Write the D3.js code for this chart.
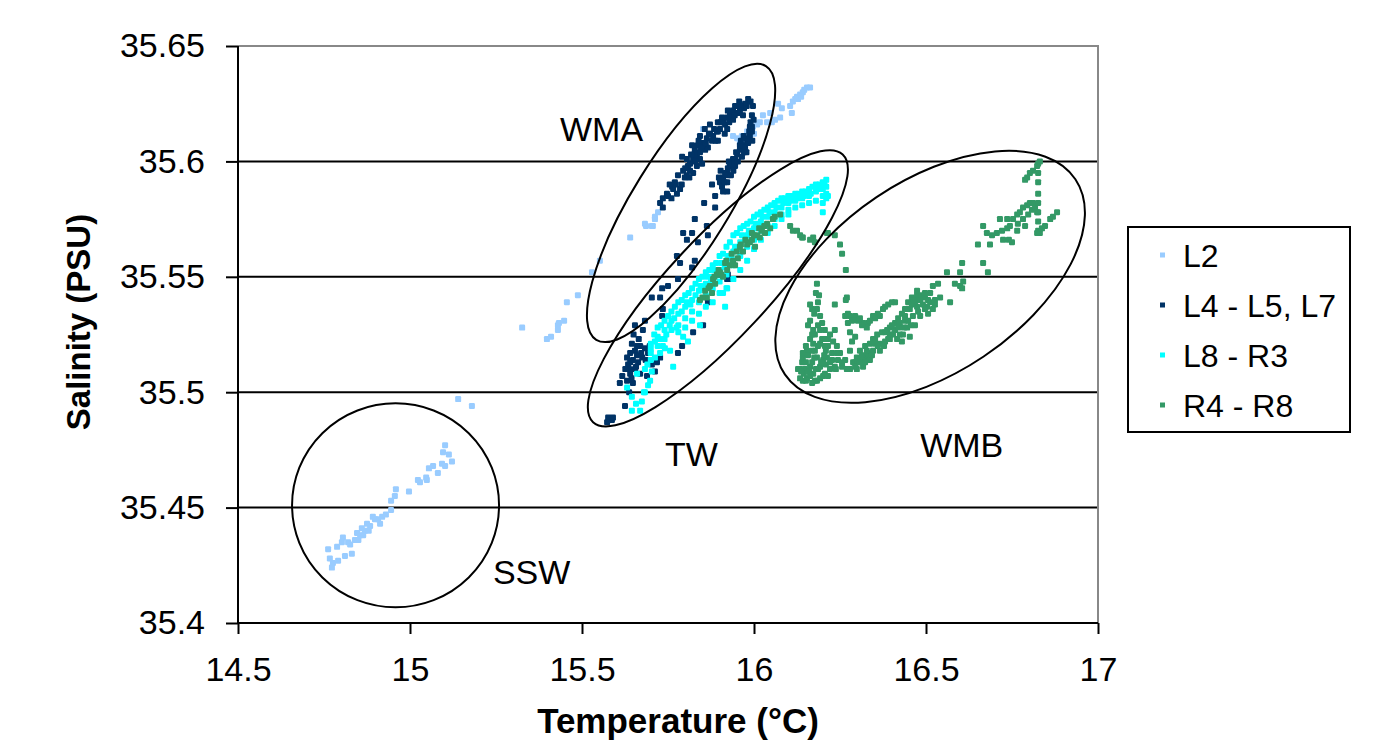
<!DOCTYPE html>
<html><head><meta charset="utf-8">
<script src="https://cdn.jsdelivr.net/npm/d3@7"></script>
<style>body{margin:0;background:#fff}svg{display:block}text{font-family:"Liberation Sans",Arial,sans-serif}</style>
</head><body><svg id="c" width="1399" height="749"></svg>
<script>
// ---------- data (Temperature °C, Salinity PSU) ----------
const seriesNames = ["L2", "L4 - L5, L7", "L8 - R3", "R4 - R8"];
const xTicks = [14.5, 15, 15.5, 16, 16.5, 17];
const xTickLabels = ["14.5", "15", "15.5", "16", "16.5", "17"];
const yTicks = [35.4, 35.45, 35.5, 35.55, 35.6, 35.65];
const yTickLabels = ["35.4", "35.45", "35.5", "35.55", "35.6", "35.65"];

const l2Points = [
 [15.140,35.497],[15.180,35.494],[15.102,35.477],[15.096,35.474],[15.113,35.473],[15.122,35.470],[15.093,35.469],[15.102,35.468],
 [15.081,35.465],[15.067,35.468],[15.055,35.467],[15.047,35.463],[15.049,35.462],[15.029,35.461],[15.023,35.462],[14.997,35.457],
 [14.959,35.458],[14.956,35.455],[14.945,35.453],[14.945,35.449],[14.919,35.446],[14.892,35.446],[14.907,35.445],[14.884,35.442],
 [14.869,35.440],[14.855,35.438],[14.840,35.436],[14.826,35.434],[14.805,35.437],[14.802,35.435],[14.788,35.433],[14.762,35.432],
 [14.767,35.428],[14.776,35.426],[14.791,35.427],[14.773,35.424],[14.811,35.429],[14.831,35.430],[14.820,35.435],[14.860,35.441],
 [14.875,35.443],[14.898,35.445],[14.846,35.439],[14.913,35.443],[14.930,35.447],[14.880,35.440],[14.864,35.438],[14.850,35.436],
 [15.552,35.557],[15.529,35.552],[15.488,35.542],[15.456,35.539],[15.448,35.531],[15.433,35.530],[15.430,35.529],[15.430,35.527],
 [15.410,35.524],[15.398,35.523],[15.326,35.528],
 [15.640,35.567],[15.686,35.572],[15.706,35.572],[15.712,35.575],[15.721,35.578],[15.683,35.573],[15.703,35.572],[15.712,35.576],
 [15.852,35.614],[15.951,35.610],[15.965,35.611],[15.980,35.613],[15.997,35.615],[16.017,35.617],[16.038,35.617],[16.061,35.618],
 [16.026,35.620],[16.047,35.621],[16.070,35.625],[16.081,35.623],[16.105,35.624],[16.110,35.621],[16.113,35.626],[16.125,35.628],
 [16.134,35.629],[16.142,35.630],[16.154,35.632],[16.163,35.632],[16.128,35.627],[15.959,35.608],[15.974,35.609],[15.939,35.611],
 [15.994,35.614],[16.009,35.616],[16.052,35.617],[16.076,35.619],[16.137,35.628],[16.146,35.631],[16.120,35.627],[16.000,35.612]
];

const l4Points = [
 [15.727,35.582],[15.735,35.584],[15.747,35.586],[15.762,35.589],[15.770,35.591],[15.765,35.588],[15.785,35.588],[15.779,35.594],
 [15.794,35.596],[15.805,35.594],[15.814,35.599],[15.823,35.601],[15.834,35.602],[15.843,35.604],[15.828,35.605],[15.837,35.607],
 [15.820,35.607],[15.852,35.608],[15.863,35.610],[15.866,35.606],[15.881,35.611],[15.892,35.613],[15.901,35.614],[15.910,35.617],
 [15.922,35.619],[15.930,35.620],[15.939,35.622],[15.951,35.624],[15.965,35.624],[15.974,35.625],[15.922,35.614],[15.895,35.609],
 [15.849,35.599],[15.834,35.598],[15.823,35.595],[15.805,35.601],[15.791,35.602],[15.843,35.611],[15.857,35.614],[15.872,35.616],
 [15.895,35.617],[15.924,35.622],[15.959,35.622],[15.939,35.618],[15.997,35.624],[15.994,35.620],[15.988,35.615],[15.735,35.580],
 [15.750,35.585],[15.773,35.590],[15.799,35.593],[15.814,35.596],[15.843,35.601],[15.858,35.605],[15.878,35.609],[15.895,35.613],
 [15.916,35.616],[15.936,35.619],[15.953,35.621],[15.971,35.623],[15.872,35.612],[15.849,35.607],[15.826,35.603],[15.808,35.598],
 [15.907,35.619],[15.945,35.624],[15.983,35.627],
 [15.760,35.584],[15.776,35.586],[15.790,35.590],[15.800,35.597],[15.817,35.603],[15.830,35.600],[15.846,35.606],[15.860,35.608],
 [15.869,35.612],[15.884,35.614],[15.888,35.609],[15.903,35.617],[15.915,35.612],[15.928,35.617],[15.944,35.620],[15.957,35.626],
 [15.968,35.620],[15.979,35.624],[15.990,35.626],[15.755,35.590],[15.812,35.593],[15.839,35.609],
 [15.901,35.591],[15.910,35.593],[15.922,35.595],[15.930,35.598],[15.939,35.601],[15.951,35.603],[15.959,35.605],[15.968,35.607],
 [15.980,35.609],[15.988,35.611],[15.994,35.613],[15.907,35.589],[15.916,35.595],[15.924,35.594],[15.936,35.599],[15.945,35.598],
 [15.965,35.602],[15.974,35.606],[15.983,35.608],[15.898,35.593],[15.922,35.587],[15.904,35.592],[15.924,35.597],[15.945,35.601],
 [15.959,35.607],[15.977,35.610],[15.994,35.615],[15.986,35.613],[15.971,35.604],[15.953,35.600],[15.933,35.594],
 [15.903,35.596],[15.915,35.591],[15.927,35.600],[15.940,35.596],[15.948,35.604],[15.962,35.609],[15.970,35.611],[15.978,35.604],
 [15.990,35.617],[15.999,35.618],[15.995,35.609],
 [15.878,35.590],[15.922,35.591],[15.910,35.587],[15.887,35.585],[15.855,35.582],[15.887,35.580],[15.828,35.575],[15.794,35.569],
 [15.820,35.569],[15.805,35.566],[15.837,35.565],[15.863,35.572],[15.866,35.568],[15.776,35.559],[15.785,35.556],[15.828,35.557],
 [15.820,35.554],[15.779,35.549],[15.750,35.546],[15.733,35.545],[15.727,35.541],[15.703,35.541],[15.735,35.536],[15.733,35.533],
 [15.654,35.529],[15.683,35.531],[15.677,35.527],[15.852,35.529],[15.823,35.526],[15.791,35.520],[15.779,35.517],[15.727,35.515],
 [15.718,35.513],[15.703,35.512],[15.692,35.517],[15.683,35.519],[15.669,35.520],[15.654,35.518],[15.640,35.517],[15.631,35.515],
 [15.648,35.514],[15.663,35.513],[15.634,35.512],[15.654,35.510],[15.640,35.508],[15.669,35.508],[15.631,35.505],[15.648,35.504],
 [15.610,35.504],[15.712,35.509],[15.689,35.507],[15.625,35.494],[15.576,35.489],[15.587,35.488],[15.573,35.487],[15.590,35.489],
 [15.924,35.551],[15.936,35.549],[15.922,35.549],[15.866,35.539],[15.660,35.516],[15.645,35.521],[15.637,35.510],[15.675,35.515],
 [15.640,35.513],[15.660,35.520],[15.650,35.525],[15.665,35.523],[15.672,35.517],[15.626,35.510],[15.644,35.506],[15.657,35.511],
 [15.685,35.514],[15.697,35.520],[15.617,35.507],[15.637,35.500]
];

const l8Points = [
 [15.70,35.521],[15.70,35.519],[15.70,35.517],[15.72,35.528],[15.72,35.524],[15.72,35.520],[15.74,35.531],[15.74,35.527],[15.74,35.523],
 [15.76,35.535],[15.76,35.531],[15.76,35.527],[15.78,35.539],[15.78,35.534],[15.78,35.529],[15.78,35.526],
 [15.80,35.542],[15.80,35.537],[15.80,35.532],[15.80,35.528],[15.82,35.545],[15.82,35.540],[15.82,35.535],[15.82,35.531],
 [15.84,35.549],[15.84,35.544],[15.84,35.539],[15.84,35.534],[15.86,35.552],[15.86,35.547],[15.86,35.542],[15.86,35.537],
 [15.88,35.555],[15.88,35.550],[15.88,35.545],[15.88,35.539],[15.90,35.559],[15.90,35.553],[15.90,35.548],[15.90,35.543],
 [15.92,35.563],[15.92,35.557],[15.92,35.551],[15.92,35.545],[15.94,35.568],[15.94,35.561],[15.94,35.555],[15.94,35.549],
 [15.96,35.571],[15.96,35.565],[15.96,35.559],[15.96,35.553],[15.98,35.573],[15.98,35.568],[15.98,35.563],[15.98,35.557],
 [16.00,35.576],[16.00,35.571],[16.00,35.566],[16.00,35.562],[16.02,35.578],[16.02,35.574],[16.02,35.570],[16.02,35.566],
 [16.04,35.580],[16.04,35.576],[16.04,35.572],[16.04,35.569],[16.06,35.582],[16.06,35.578],[16.06,35.575],[16.06,35.572],
 [16.08,35.584],[16.08,35.580],[16.08,35.577],[16.08,35.575],[16.10,35.585],[16.10,35.582],[16.10,35.579],[16.10,35.577],
 [16.12,35.586],[16.12,35.583],[16.12,35.580],[16.14,35.587],[16.14,35.584],[16.14,35.581],[16.16,35.588],[16.16,35.585],[16.16,35.582],
 [16.18,35.590],[16.18,35.587],[16.18,35.583],[16.20,35.591],[16.20,35.588],[16.20,35.585],[16.20,35.582],
 [16.21,35.592],[16.21,35.589],[16.21,35.586],[16.21,35.584],[16.215,35.585],[16.200,35.578],
 [15.71,35.525],[15.73,35.529],[15.75,35.533],[15.77,35.537],[15.79,35.540],[15.81,35.543],[15.83,35.547],[15.85,35.550],
 [15.87,35.553],[15.89,35.556],[15.91,35.560],[15.93,35.565],[15.95,35.569],[15.97,35.572],[15.99,35.574],[16.01,35.577],
 [16.03,35.579],[16.05,35.581],[16.07,35.583],[16.09,35.584],[16.11,35.585],[16.13,35.586],[16.15,35.587],[16.17,35.589],[16.19,35.590],
 [15.690,35.512],[15.700,35.514],[15.712,35.522],[15.725,35.523],[15.735,35.520],[15.745,35.525],[15.755,35.529],[15.768,35.532],
 [15.775,35.528],[15.790,35.535],[15.805,35.539],[15.815,35.538],[15.830,35.542],[15.845,35.546],[15.855,35.545],[15.865,35.550],
 [15.875,35.548],[15.885,35.553],[15.895,35.551],[15.905,35.556],[15.915,35.554],[15.925,35.559],[15.935,35.558],[15.945,35.563],
 [15.955,35.562],[15.965,35.568],[15.975,35.566],[15.985,35.570],[15.995,35.569],[16.005,35.573],[16.015,35.572],[16.025,35.576],
 [16.045,35.578],[16.065,35.580],[16.085,35.582],[16.105,35.583],[16.125,35.584],[16.145,35.585],[16.165,35.586],[16.185,35.588],[16.205,35.590],
 [15.631,35.502],[15.645,35.498],[15.674,35.496],[15.669,35.492],[15.645,35.492],[15.683,35.500],[15.698,35.505],[15.703,35.509],
 [15.712,35.515],[15.727,35.517],[15.741,35.519],[15.756,35.518],[15.765,35.511],[15.808,35.522],[15.794,35.524],[15.843,35.529],
 [15.916,35.537],[15.922,35.545],[15.910,35.543],[15.660,35.508],[15.692,35.503],[15.680,35.500],[15.657,35.495],[15.683,35.510]
];

const r4Points = [
 [16.076,35.577],[16.055,35.575],[16.038,35.573],[16.023,35.570],[16.009,35.568],[15.994,35.566],[15.980,35.564],[15.968,35.561],
 [15.953,35.558],[15.939,35.557],[15.930,35.555],[15.922,35.553],[15.901,35.552],[15.892,35.551],[15.881,35.549],[15.872,35.546],
 [15.858,35.544],[15.863,35.541],[15.878,35.543],[15.910,35.550],[15.959,35.563],[15.988,35.565],[15.994,35.569],[16.105,35.572],
 [16.125,35.570],[16.134,35.568],[16.172,35.567],[16.212,35.569],[15.945,35.555],[15.916,35.556],[16.017,35.567],[16.047,35.571],
 [16.003,35.563],[16.032,35.569],[15.843,35.540],[15.887,35.547],
 [15.850,35.541],[15.868,35.545],[15.885,35.550],[15.897,35.553],[15.905,35.551],[15.920,35.557],[15.935,35.560],[15.950,35.561],
 [15.962,35.564],[15.975,35.566],[16.000,35.568],[16.015,35.571],[16.030,35.572],[16.060,35.576],
 [16.140,35.567],[16.163,35.566],[16.177,35.565],[16.215,35.569],[16.235,35.568],[16.250,35.564],[16.256,35.560],[16.267,35.553],
 [16.270,35.541],[16.267,35.540],[16.235,35.538],[16.183,35.547],[16.113,35.570],[16.142,35.567],
 [16.180,35.543],[16.186,35.539],[16.183,35.536],[16.192,35.533],[16.169,35.536],[16.163,35.531],[16.172,35.527],[16.198,35.530],
 [16.206,35.527],[16.221,35.525],[16.235,35.527],[16.230,35.522],[16.241,35.520],[16.250,35.517],[16.215,35.520],[16.198,35.523],
 [16.172,35.521],[16.154,35.518],[16.142,35.515],[16.140,35.513],[16.148,35.510],[16.154,35.506],[16.172,35.508],[16.192,35.511],
 [16.201,35.514],[16.183,35.515],[16.169,35.513],[16.212,35.515],[16.221,35.510],[16.201,35.507],[16.183,35.505],[16.142,35.505],
 [16.157,35.516],[16.177,35.518],[16.206,35.520],[16.163,35.511],[16.186,35.510],[16.134,35.510],[16.227,35.514],[16.209,35.512],
 [16.157,35.529],[16.177,35.525],[16.192,35.521],[16.169,35.518],[16.151,35.513],[16.128,35.510],[16.163,35.507],[16.206,35.508],
 [16.235,35.511],[16.244,35.514],[16.215,35.523],[16.186,35.529],[16.145,35.508],[16.177,35.505],[16.134,35.506],
 [16.137,35.509],[16.151,35.505],[16.169,35.504],[16.192,35.506],[16.215,35.507],[16.238,35.510],[16.256,35.511],[16.227,35.517],
 [16.209,35.518],[16.186,35.520],[16.163,35.523],[16.151,35.520],[16.142,35.517],[16.175,35.515],[16.195,35.513],[16.180,35.510],
 [16.160,35.509],[16.204,35.516],[16.221,35.513],[16.241,35.517],[16.169,35.525],[16.192,35.527],[16.209,35.523],[16.175,35.534],
 [16.163,35.538],[16.189,35.542],
 [16.256,35.513],[16.279,35.510],[16.288,35.513],[16.299,35.515],[16.308,35.518],[16.323,35.520],[16.337,35.521],[16.346,35.523],
 [16.358,35.525],[16.372,35.526],[16.387,35.527],[16.395,35.528],[16.410,35.530],[16.419,35.532],[16.430,35.534],[16.439,35.536],
 [16.448,35.539],[16.459,35.541],[16.474,35.542],[16.488,35.542],[16.497,35.541],[16.512,35.539],[16.520,35.536],[16.503,35.537],
 [16.474,35.537],[16.462,35.533],[16.483,35.533],[16.445,35.528],[16.433,35.525],[16.453,35.524],[16.430,35.522],[16.328,35.515],
 [16.317,35.511],[16.346,35.518],[16.366,35.521],[16.390,35.523],[16.404,35.525],[16.299,35.510],[16.337,35.514],[16.279,35.518],
 [16.285,35.522],[16.279,35.526],[16.294,35.524],[16.273,35.530],[16.381,35.522],[16.410,35.527],[16.424,35.530],[16.453,35.536],
 [16.468,35.539],[16.352,35.521],[16.314,35.516],[16.265,35.514],[16.439,35.531],[16.468,35.529],[16.497,35.536],[16.512,35.543],[16.477,35.540],
 [16.294,35.513],[16.314,35.514],[16.331,35.517],[16.352,35.523],[16.381,35.526],[16.401,35.529],[16.419,35.528],[16.439,35.533],
 [16.459,35.538],[16.483,35.540],[16.506,35.540],[16.526,35.538],[16.477,35.535],[16.448,35.531],[16.424,35.525],[16.395,35.523],
 [16.366,35.518],[16.323,35.513],[16.302,35.513],[16.270,35.510],
 [16.294,35.511],[16.308,35.513],[16.328,35.518],[16.343,35.516],[16.360,35.520],[16.378,35.520],[16.395,35.525],[16.416,35.523],
 [16.436,35.528],[16.456,35.529],[16.442,35.536],[16.465,35.540],[16.491,35.538],[16.506,35.534],[16.526,35.540],[16.497,35.543],
 [16.474,35.544],[16.541,35.541],
 [16.265,35.533],[16.279,35.533],[16.294,35.533],[16.302,35.531],[16.317,35.530],[16.331,35.530],[16.346,35.533],[16.360,35.534],
 [16.375,35.536],[16.390,35.538],[16.401,35.539],[16.328,35.528],[16.308,35.532],[16.337,35.531],[16.366,35.533],
 [16.273,35.534],[16.285,35.531],[16.314,35.529],[16.352,35.532],[16.381,35.537],[16.410,35.539],
 [16.520,35.546],[16.535,35.547],[16.570,35.539],[16.584,35.547],[16.599,35.546],[16.608,35.548],[16.605,35.545],[16.561,35.552],
 [16.599,35.552],[16.605,35.556],[16.666,35.556],[16.680,35.552],[16.651,35.564],[16.686,35.564],
 [16.677,35.569],[16.692,35.568],[16.706,35.569],[16.721,35.570],[16.736,35.571],[16.744,35.572],[16.724,35.566],[16.750,35.565],
 [16.666,35.572],[16.715,35.575],[16.736,35.575],[16.753,35.575],[16.765,35.577],[16.773,35.578],[16.782,35.580],[16.794,35.581],
 [16.802,35.582],[16.811,35.582],[16.767,35.573],[16.782,35.575],[16.797,35.577],[16.808,35.579],[16.765,35.570],[16.788,35.572],
 [16.817,35.580],[16.823,35.578],[16.741,35.566],
 [16.826,35.599],[16.823,35.598],[16.811,35.596],[16.802,35.595],[16.794,35.593],[16.788,35.592],[16.826,35.595],[16.826,35.591],
 [16.826,35.586],[16.826,35.582],[16.826,35.578],[16.826,35.574],[16.826,35.570],[16.831,35.569],[16.823,35.569],[16.837,35.571],
 [16.846,35.572],[16.861,35.575],[16.869,35.576],[16.881,35.578],[16.831,35.600]
];

// annotations: water-mass ellipses (centre in data units) and labels
const massNames = ["WMA", "TW", "WMB", "SSW"];
const massCentreT = [15.788, 15.895, 16.512, 14.958];
const massCentreS = [35.582, 35.545, 35.550, 35.451];
const massLabelT = [15.436, 15.741, 16.483, 15.241];
const massLabelS = [35.609, 35.468, 35.472, 35.417];

// ---------- layout / style ----------
const ellipseGeom = [ {rx:161, ry:48, rot:-58.2}, {rx:183, ry:50, rot:-47}, {rx:175, ry:96, rot:-33.9}, {rx:103.5, ry:102, rot:0} ];
const colors = ["#99CCFF", "#003366", "#00FFFF", "#339966"];
const svg = d3.select("#c");
svg.append("rect").attr("width",1399).attr("height",749).attr("fill","#fff");

const x = d3.scaleLinear().domain([14.5, 17]).range([238, 1098]);
const y = d3.scaleLinear().domain([35.4, 35.65]).range([623, 46]);

// grid lines
svg.append("g").selectAll("line").data(yTicks.filter(v => v > 35.4 && v < 35.65)).join("line")
  .attr("x1", x(14.5)).attr("x2", x(17)).attr("y1", d => y(d)).attr("y2", d => y(d))
  .attr("stroke", "#000").attr("stroke-width", 2);
// plot border top/right (grey)
svg.append("path").attr("d", `M${x(14.5)},${y(35.65)}H${x(17)}V${y(35.4)}`)
  .attr("fill","none").attr("stroke","#888").attr("stroke-width",2);

// points
const allSeries = [l2Points, l4Points, l8Points, r4Points];
const ms = 6;
allSeries.forEach((pts, i) => {
  svg.append("g").selectAll("rect").data(pts).join("rect")
    .attr("x", d => x(d[0]) - ms/2).attr("y", d => y(d[1]) - ms/2)
    .attr("width", ms).attr("height", ms).attr("rx", 1.2)
    .attr("fill", colors[i]);
});

// ellipses
massNames.forEach((n, i) => {
  const g = ellipseGeom[i];
  svg.append("ellipse")
    .attr("transform", `translate(${x(massCentreT[i])},${y(massCentreS[i])}) rotate(${g.rot})`)
    .attr("rx", g.rx).attr("ry", g.ry)
    .attr("fill", "none").attr("stroke", "#000").attr("stroke-width", 2);
  svg.append("text").attr("x", x(massLabelT[i])).attr("y", y(massLabelS[i]))
    .attr("font-size", 34).attr("fill", "#000").text(n);
});

// axes
const yAxis = d3.axisLeft(y).tickValues(yTicks).tickSize(12).tickPadding(21)
  .tickFormat((d, i) => yTickLabels[i]);
const gy = svg.append("g").attr("transform", `translate(${x(14.5)},0)`).call(yAxis);
const xAxis = d3.axisBottom(x).tickValues(xTicks).tickSize(11).tickPadding(23)
  .tickFormat((d, i) => xTickLabels[i]);
const gx = svg.append("g").attr("transform", `translate(0,${y(35.4)})`).call(xAxis);
[gx, gy].forEach(g => {
  g.select(".domain").attr("stroke", "#000").attr("stroke-width", 2);
  g.selectAll(".tick line").attr("stroke", "#000").attr("stroke-width", 2);
  g.selectAll(".tick text").attr("font-size", 34).attr("fill", "#000")
    .attr("font-family", '"Liberation Sans",Arial,sans-serif');
});
gx.select(".domain").attr("d", `M${x(14.5)},0H${x(17)}`);
gy.select(".domain").attr("d", `M0,${y(35.4)}V${y(35.65)}`);

// axis titles
svg.append("text").attr("x", 678).attr("y", 733).attr("text-anchor", "middle")
  .attr("font-size", 35).attr("font-weight", "bold").text("Temperature (°C)");
svg.append("text").attr("transform", "translate(90,322) rotate(-90)").attr("text-anchor", "middle")
  .attr("font-size", 33).attr("font-weight", "bold").text("Salinity (PSU)");

// legend
const lg = svg.append("g");
lg.append("rect").attr("x", 1128).attr("y", 227).attr("width", 222).attr("height", 205)
  .attr("fill", "#fff").attr("stroke", "#000").attr("stroke-width", 2);
seriesNames.forEach((n, i) => {
  const cy = 255 + i * 50;
  lg.append("rect").attr("x", 1160).attr("y", cy - 2.5).attr("width", 5).attr("height", 5).attr("fill", colors[i]);
  lg.append("text").attr("x", 1183).attr("y", cy + 12).attr("font-size", 32).text(n);
});
</script></body></html>
